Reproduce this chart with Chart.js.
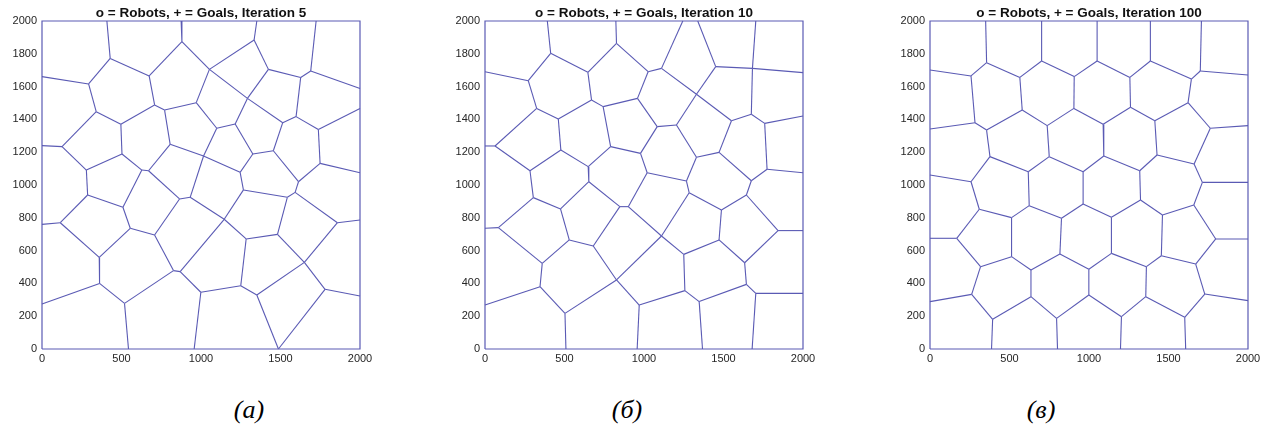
<!DOCTYPE html>
<html><head><meta charset="utf-8">
<script src="https://cdn.jsdelivr.net/npm/chart.js@4.4.1/dist/chart.umd.min.js"></script>
<style>
html,body{margin:0;padding:0;background:#fff}
body{width:1278px;height:435px;overflow:hidden;position:relative}
canvas{position:absolute;top:0}
.cap{position:absolute;top:397px;font:italic 26px/26px "Liberation Serif","Times New Roman",serif;color:#000;transform:translateX(-50%);white-space:nowrap}
</style></head><body>
<canvas id="p0" width="382" height="379" style="left:0px"></canvas>
<canvas id="p1" width="382" height="379" style="left:443px"></canvas>
<canvas id="p2" width="382" height="379" style="left:888px"></canvas>
<div class="cap" id="cap0" style="left:249px"></div>
<div class="cap" id="cap1" style="left:627px"></div>
<div class="cap" id="cap2" style="left:1041px"></div>
<script>
// ---- data (edges of Voronoi cells: [x1, y1, x2, y2]) ----
const titles = ['o = Robots, + = Goals, Iteration 5', 'o = Robots, + = Goals, Iteration 10', 'o = Robots, + = Goals, Iteration 100'];
const captions = ['(a)', '(б)', '(в)'];
const xTicks = [0, 500, 1000, 1500, 2000];
const yTicks = [0, 200, 400, 600, 800, 1000, 1200, 1400, 1600, 1800, 2000];
const boxOutline = [[0, 0], [2000, 0], [2000, 2000], [0, 2000], [0, 0]];

const edgesIter5 = [
[408,2000,429,1772],[429,1772,293,1616],[429,1772,674,1665],[0,1661,293,1616],[293,1616,341,1447],
[674,1665,880,1874],[674,1665,708,1488],[875,2000,880,1874],[880,1874,1053,1705],[1053,1705,1334,1884],
[1053,1705,1292,1528],[1053,1705,970,1502],[1351,2000,1334,1884],[1334,1884,1424,1705],[1424,1705,1292,1528],
[1424,1705,1627,1656],[1627,1656,1690,1695],[1724,2000,1690,1695],[1690,1695,2000,1589],[1627,1656,1598,1417],
[1292,1528,1514,1380],[1292,1528,1215,1372],[970,1502,771,1457],[970,1502,1099,1346],[708,1488,771,1457],
[708,1488,496,1370],[771,1457,806,1248],[341,1447,496,1370],[341,1447,126,1234],[0,1240,126,1234],
[126,1234,279,1091],[496,1370,503,1189],[279,1091,503,1189],[279,1091,287,939],[503,1189,628,1091],
[628,1091,670,1087],[670,1087,806,1248],[628,1091,509,864],[670,1087,865,915],[806,1248,1016,1177],
[1099,1346,1215,1372],[1099,1346,1016,1177],[1215,1372,1326,1189],[1514,1380,1598,1417],[1514,1380,1455,1209],
[1598,1417,1738,1339],[1738,1339,2000,1467],[1738,1339,1749,1132],[1455,1209,1326,1189],[1455,1209,1613,1020],
[1326,1189,1246,1077],[1016,1177,1246,1077],[1016,1177,932,925],[1246,1077,1267,970],[1749,1132,1613,1020],
[1749,1132,2000,1075],[1613,1020,1592,955],[1592,955,1543,925],[1592,955,1858,770],[1543,925,1267,970],
[1543,925,1481,699],[1267,970,1146,791],[932,925,865,915],[932,925,1146,791],[865,915,708,695],
[287,939,509,864],[287,939,115,770],[0,760,115,770],[509,864,555,736],[115,770,360,559],
[555,736,708,695],[555,736,360,559],[708,695,827,478],[1146,791,1284,671],[1146,791,869,472],
[1858,770,2000,787],[1858,770,1650,528],[1284,671,1481,699],[1284,671,1250,386],[1481,699,1650,528],
[360,559,362,400],[1650,528,1351,329],[1650,528,1780,364],[827,478,869,472],[827,478,519,278],
[869,472,999,346],[999,346,1250,386],[999,346,957,0],[1250,386,1351,329],[1351,329,1487,0],
[1780,364,1487,0],[1780,364,2000,323],[362,400,0,274],[362,400,519,278],[519,278,544,0]
];

const edgesIter10 = [
[392,2000,413,1803],[413,1803,272,1636],[413,1803,647,1687],[0,1691,272,1636],[272,1636,325,1467],
[647,1687,827,1864],[647,1687,670,1518],[823,2000,827,1864],[827,1864,1026,1691],[1026,1691,1110,1711],
[1026,1691,959,1528],[1110,1711,1244,2000],[1110,1711,1330,1553],[1451,1722,1338,2000],[1451,1722,1330,1553],
[1451,1722,1682,1711],[1682,1711,1703,2000],[1682,1711,2000,1685],[1682,1711,1675,1431],[1330,1553,1204,1366],
[1330,1553,1550,1392],[959,1528,743,1478],[959,1528,1083,1356],[670,1518,743,1478],[670,1518,461,1402],
[743,1478,790,1234],[325,1467,461,1402],[325,1467,63,1238],[0,1238,63,1238],[63,1238,283,1087],
[461,1402,477,1213],[283,1087,477,1213],[283,1087,304,923],[477,1213,649,1112],[790,1234,978,1193],
[790,1234,649,1112],[649,1112,653,1020],[978,1193,1083,1356],[978,1193,1020,1075],[1083,1356,1204,1366],
[1204,1366,1330,1169],[1330,1169,1472,1199],[1330,1169,1267,1024],[1472,1199,1550,1392],[1472,1199,1675,1026],
[1550,1392,1675,1431],[1675,1431,1759,1376],[1759,1376,2000,1421],[1759,1376,1774,1096],[1774,1096,2000,1075],
[1774,1096,1675,1026],[1675,1026,1644,939],[1644,939,1487,848],[1644,939,1843,722],[1487,848,1284,953],
[1487,848,1472,665],[1284,953,1267,1024],[1284,953,1110,689],[1267,1024,1020,1075],[1020,1075,901,868],
[901,868,848,868],[901,868,1110,689],[848,868,653,1020],[848,868,681,628],[653,1020,475,854],
[304,923,475,854],[304,923,84,740],[0,736,84,740],[475,854,530,665],[84,740,360,522],
[530,665,681,628],[530,665,360,522],[681,628,827,421],[1110,689,1250,577],[1110,689,827,421],
[1843,722,2000,722],[1843,722,1633,526],[1250,577,1472,665],[1250,577,1257,356],[1472,665,1633,526],
[1633,526,1644,394],[360,522,346,380],[827,421,503,217],[827,421,970,268],[346,380,0,268],
[346,380,503,217],[503,217,509,0],[970,268,1257,356],[970,268,957,0],[1257,356,1347,289],
[1347,289,1644,394],[1347,289,1368,0],[1644,394,1703,339],[1703,339,2000,339],[1703,339,1680,0]
];

const edgesIter100 = [
[350,2000,356,1746],[356,1746,258,1665],[356,1746,565,1656],[0,1701,258,1665],[258,1665,283,1380],
[565,1656,702,1756],[565,1656,580,1457],[702,2000,702,1756],[702,1756,907,1661],[907,1661,1051,1756],
[907,1661,905,1467],[1051,2000,1051,1756],[1051,1756,1257,1656],[1257,1656,1386,1756],[1257,1656,1261,1474],
[1386,2000,1386,1756],[1386,1756,1644,1646],[1644,1646,1700,1695],[1707,2000,1700,1695],[1700,1695,2000,1671],
[1644,1646,1623,1502],[1623,1502,1763,1346],[1623,1502,1414,1392],[1763,1346,2000,1362],[1763,1346,1661,1128],
[1414,1392,1261,1474],[1414,1392,1428,1183],[1261,1474,1089,1370],[1089,1370,905,1467],[1089,1370,1093,1177],
[905,1467,737,1362],[737,1362,580,1457],[737,1362,750,1173],[580,1457,356,1335],[283,1380,356,1335],
[0,1341,283,1380],[356,1335,377,1173],[377,1173,258,1020],[377,1173,618,1081],[258,1020,0,1061],
[258,1020,310,852],[310,852,168,675],[310,852,513,801],[168,675,0,675],[168,675,318,502],
[318,502,262,333],[318,502,513,563],[262,333,0,289],[262,333,394,181],[394,181,387,0],
[394,181,635,319],[635,319,796,187],[635,319,635,482],[796,187,802,0],[796,187,999,329],
[999,329,1204,197],[999,329,999,486],[1204,197,1198,0],[1204,197,1357,319],[1357,319,1602,193],
[1357,319,1361,502],[1602,193,1608,0],[1602,193,1728,335],[1728,335,2000,295],[1728,335,1671,518],
[1671,518,1797,671],[1671,518,1455,569],[1797,671,2000,671],[1797,671,1659,878],[1659,878,1713,1016],
[1659,878,1462,817],[1713,1016,2000,1016],[1713,1016,1661,1128],[1661,1128,1428,1183],[1428,1183,1319,1087],
[1319,1087,1093,1177],[1093,1177,963,1081],[1319,1087,1324,909],[963,1081,750,1173],[963,1081,963,884],
[750,1173,618,1081],[618,1081,624,874],[624,874,513,801],[624,874,827,797],[513,801,513,563],
[513,563,635,482],[635,482,817,579],[817,579,827,797],[817,579,999,486],[827,797,963,884],
[963,884,1141,803],[1141,803,1324,909],[1141,803,1141,583],[1324,909,1462,817],[1462,817,1455,569],
[1455,569,1361,502],[1361,502,1141,583],[1141,583,999,486]
];

const panelEdges = [edgesIter5, edgesIter10, edgesIter100];

// ---- styles ----
const LINE = '#5a5ab4';
const TEXT = '#262626';
const FONT = '"Liberation Sans", Arial, Helvetica, sans-serif';

const titlePlugin = {
  id: 'panelTitle',
  afterDraw(chart, args, opts) {
    const {ctx, chartArea} = chart;
    ctx.save();
    ctx.font = 'bold 13.5px ' + FONT;
    ctx.fillStyle = '#111';
    ctx.textAlign = 'center';
    ctx.textBaseline = 'middle';
    ctx.fillText(opts.text, (chartArea.left + chartArea.right) / 2, 13);
    ctx.restore();
  }
};

function makeChart(id, edges, title) {
  const datasets = edges.map(s => ({
    data: [{x: s[0], y: s[1]}, {x: s[2], y: s[3]}],
    showLine: true, borderColor: LINE, borderWidth: 1.1,
    pointRadius: 0, pointHoverRadius: 0, clip: false
  }));
  datasets.push({
    data: boxOutline.map(p => ({x: p[0], y: p[1]})),
    showLine: true, borderColor: LINE, borderWidth: 1.2,
    pointRadius: 0, pointHoverRadius: 0, clip: false
  });
  return new Chart(document.getElementById(id), {
    type: 'scatter',
    data: {datasets},
    options: {
      responsive: false, animation: false, events: [],
      layout: {padding: {top: 21, right: 22, left: 0, bottom: 0}},
      plugins: {legend: {display: false}, tooltip: {enabled: false}, panelTitle: {text: title}},
      scales: {
        x: {
          type: 'linear', min: 0, max: 2000,
          afterBuildTicks: s => { s.ticks = xTicks.map(v => ({value: v})); },
          afterFit: s => { s.height = 30; },
          grid: {display: false, drawTicks: false},
          border: {display: false},
          ticks: {padding: 3, color: TEXT, font: {family: FONT, size: 11}, maxRotation: 0, autoSkip: false,
                  callback: v => String(v)}
        },
        y: {
          type: 'linear', min: 0, max: 2000,
          afterBuildTicks: s => { s.ticks = yTicks.map(v => ({value: v})); },
          afterFit: s => { s.width = 42; },
          grid: {display: false, drawTicks: false},
          border: {display: false},
          ticks: {padding: 5, color: TEXT, font: {family: FONT, size: 11}, autoSkip: false,
                  callback: v => String(v)}
        }
      }
    },
    plugins: [titlePlugin]
  });
}

panelEdges.forEach((edges, i) => {
  makeChart('p' + i, edges, titles[i]);
  document.getElementById('cap' + i).textContent = captions[i];
});
</script>
</body></html>
